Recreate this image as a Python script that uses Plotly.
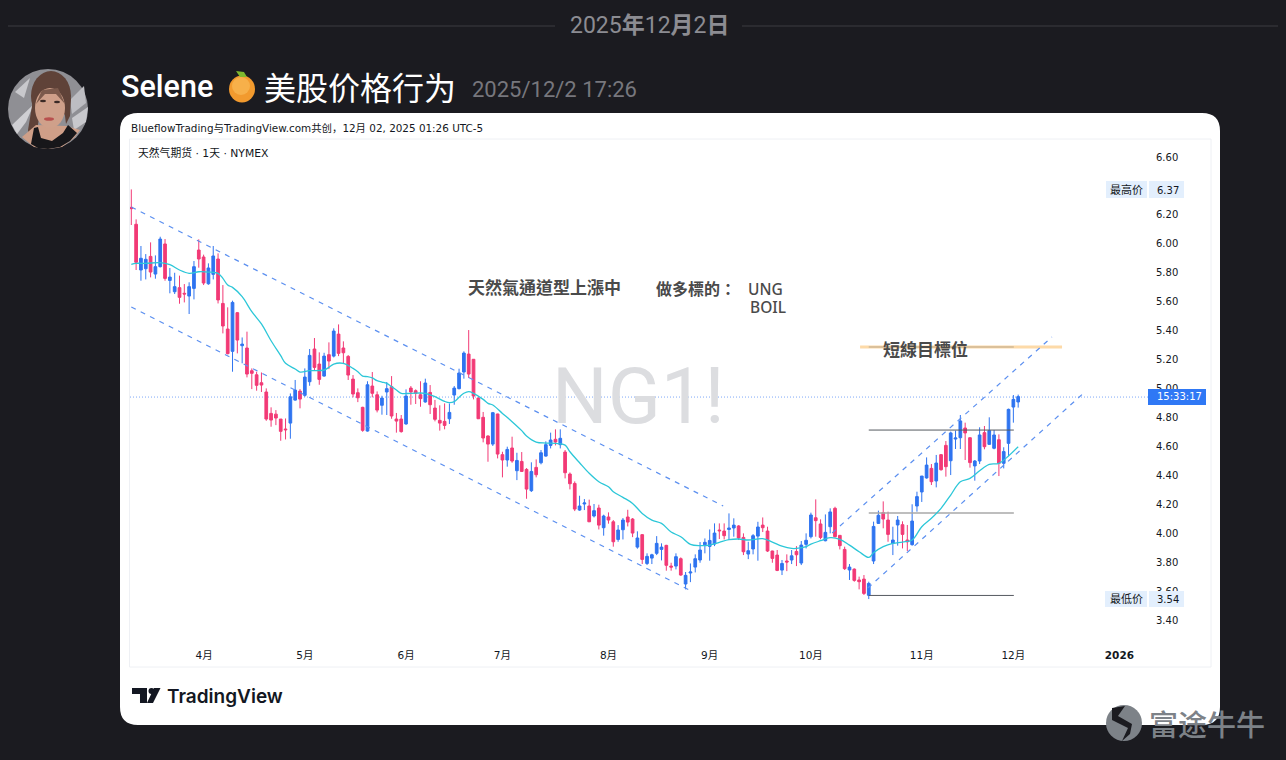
import plotly.graph_objects as go

WIDTH, HEIGHT = 1286, 760
LEFT, RIGHT, TOP, BOTTOM = 130, 1150, 139, 645

# daily candles, NG1! 1D
opens = [6.252, 6.135, 5.819, 5.828, 5.913, 5.791, 5.842, 5.999, 5.747, 5.669,
         5.697, 5.658, 5.639, 5.692, 5.957, 5.909, 5.724, 5.789, 5.895, 5.588,
         5.411, 5.257, 5.524, 5.296, 5.280, 5.123, 5.095, 5.040, 4.976, 4.828,
         4.823, 4.789, 4.720, 4.761, 4.920, 4.982, 4.953, 5.047, 5.273, 5.169,
         5.086, 5.234, 5.224, 5.376, 5.280, 5.222, 5.065, 4.971, 4.870, 4.706,
         5.017, 4.957, 4.884, 4.976, 5.013, 4.789, 4.789, 4.755, 5.003, 4.985,
         4.957, 4.907, 4.973, 4.865, 4.780, 4.773, 4.791, 4.955, 4.999, 5.114,
         5.238, 5.202, 4.934, 4.801, 4.672, 4.616, 4.824, 4.543, 4.506, 4.589,
         4.432, 4.496, 4.441, 4.294, 4.455, 4.487, 4.533, 4.607, 4.649, 4.612,
         4.561, 4.409, 4.344, 4.160, 4.202, 4.188, 4.119, 4.174, 4.038, 4.112,
         4.079, 3.957, 4.024, 4.112, 4.098, 3.904, 3.990, 3.791, 3.828, 3.861,
         3.888, 3.916, 3.773, 3.773, 3.824, 3.649, 3.725, 3.766, 3.815, 3.920,
         3.909, 3.925, 4.022, 4.015, 4.026, 4.036, 4.050, 3.971, 3.856, 3.891,
         3.980, 4.056, 4.015, 3.877, 3.849, 3.745, 3.808, 3.815, 3.874, 3.794,
         3.923, 3.976, 4.107, 4.064, 3.948, 4.045, 4.172, 3.985, 3.888, 3.746,
         3.752, 3.677, 3.683, 3.571, 3.808, 4.068, 4.142, 4.091, 3.930, 4.057,
         4.059, 3.953, 3.921, 4.188, 4.285, 4.382, 4.448, 4.361, 4.543, 4.607,
         4.501, 4.651, 4.660, 4.727, 4.660, 4.465, 4.499, 4.695, 4.614, 4.587,
         4.646, 4.483, 4.621, 4.872, 4.907]
highs = [6.376, 6.169, 5.985, 5.929, 6.010, 5.920, 6.049, 6.033, 5.833, 5.800,
         5.780, 5.722, 5.734, 5.881, 6.031, 5.925, 5.865, 5.985, 5.934, 5.715,
         5.561, 5.607, 5.529, 5.353, 5.393, 5.139, 5.116, 5.111, 5.001, 4.870,
         4.851, 4.789, 4.793, 4.966, 5.059, 4.996, 5.139, 5.273, 5.349, 5.250,
         5.247, 5.319, 5.416, 5.443, 5.326, 5.231, 5.093, 5.001, 4.874, 5.050,
         5.114, 4.980, 4.950, 5.045, 5.086, 4.831, 4.817, 4.994, 5.017, 4.994,
         5.050, 5.068, 5.024, 4.921, 4.884, 4.897, 4.897, 5.017, 5.137, 5.257,
         5.404, 5.204, 4.939, 4.838, 4.676, 4.838, 4.826, 4.563, 4.598, 4.667,
         4.556, 4.561, 4.450, 4.490, 4.510, 4.575, 4.635, 4.695, 4.718, 4.718,
         4.575, 4.420, 4.358, 4.259, 4.236, 4.232, 4.202, 4.197, 4.128, 4.144,
         4.091, 4.056, 4.105, 4.162, 4.105, 4.013, 3.994, 3.861, 3.858, 3.980,
         3.930, 3.920, 3.796, 3.861, 3.833, 3.732, 3.791, 3.854, 3.939, 3.964,
         4.026, 4.068, 4.068, 4.068, 4.137, 4.103, 4.056, 3.999, 3.941, 3.994,
         4.079, 4.109, 4.045, 3.879, 3.884, 3.815, 3.854, 3.884, 3.911, 3.946,
         3.999, 4.142, 4.234, 4.096, 4.130, 4.172, 4.183, 3.988, 3.907, 3.787,
         3.757, 3.700, 3.711, 3.665, 4.080, 4.156, 4.220, 4.149, 4.045, 4.119,
         4.082, 4.057, 4.200, 4.287, 4.395, 4.524, 4.478, 4.541, 4.547, 4.637,
         4.702, 4.709, 4.817, 4.764, 4.663, 4.506, 4.732, 4.741, 4.801, 4.713,
         4.683, 4.594, 4.861, 4.955, 4.958]
lows = [6.130, 5.819, 5.745, 5.754, 5.768, 5.759, 5.837, 5.745, 5.658, 5.653,
        5.586, 5.595, 5.515, 5.616, 5.835, 5.715, 5.717, 5.754, 5.588, 5.381,
        5.236, 5.116, 5.243, 5.174, 5.077, 4.996, 4.985, 4.976, 4.777, 4.736,
        4.747, 4.639, 4.648, 4.653, 4.916, 4.863, 4.943, 5.019, 5.123, 5.026,
        5.082, 5.134, 5.215, 5.224, 5.169, 5.059, 4.939, 4.906, 4.701, 4.702,
        4.939, 4.835, 4.819, 4.817, 4.791, 4.695, 4.695, 4.750, 4.888, 4.893,
        4.874, 4.902, 4.824, 4.773, 4.709, 4.718, 4.755, 4.888, 4.994, 5.068,
        5.073, 4.925, 4.789, 4.628, 4.494, 4.603, 4.517, 4.386, 4.460, 4.487,
        4.367, 4.423, 4.238, 4.285, 4.386, 4.476, 4.529, 4.586, 4.607, 4.586,
        4.379, 4.303, 4.153, 4.155, 4.160, 4.077, 4.109, 4.026, 3.983, 4.066,
        3.907, 3.941, 3.957, 4.047, 3.973, 3.893, 3.787, 3.780, 3.787, 3.849,
        3.812, 3.741, 3.741, 3.750, 3.706, 3.612, 3.662, 3.729, 3.796, 3.861,
        3.810, 3.911, 3.960, 3.957, 3.953, 3.976, 3.953, 3.849, 3.821, 3.854,
        3.810, 4.008, 3.870, 3.796, 3.738, 3.711, 3.738, 3.787, 3.773, 3.780,
        3.895, 3.964, 3.976, 3.958, 3.944, 3.999, 3.971, 3.888, 3.746, 3.677,
        3.665, 3.612, 3.573, 3.545, 3.787, 4.064, 4.034, 3.941, 3.849, 3.914,
        3.895, 3.877, 3.914, 4.149, 4.216, 4.377, 4.333, 4.317, 4.432, 4.391,
        4.402, 4.582, 4.582, 4.506, 4.453, 4.363, 4.478, 4.580, 4.610, 4.580,
        4.395, 4.448, 4.534, 4.764, 4.868]
closes = [6.243, 5.872, 5.900, 5.893, 5.805, 5.842, 6.033, 5.761, 5.770, 5.704,
          5.630, 5.653, 5.704, 5.842, 5.895, 5.729, 5.833, 5.916, 5.612, 5.432,
          5.241, 5.595, 5.335, 5.307, 5.100, 5.105, 5.022, 5.024, 4.789, 4.782,
          4.796, 4.704, 4.715, 4.943, 4.989, 4.927, 5.079, 5.229, 5.146, 5.063,
          5.224, 5.190, 5.397, 5.243, 5.247, 5.093, 4.962, 4.936, 4.711, 5.026,
          4.967, 4.851, 4.934, 4.999, 4.810, 4.775, 4.702, 4.948, 4.976, 4.967,
          4.930, 5.038, 4.888, 4.787, 4.761, 4.745, 4.835, 5.003, 5.107, 5.245,
          5.100, 4.948, 4.791, 4.658, 4.616, 4.833, 4.547, 4.506, 4.579, 4.499,
          4.503, 4.427, 4.305, 4.427, 4.404, 4.556, 4.612, 4.644, 4.630, 4.656,
          4.418, 4.342, 4.167, 4.188, 4.209, 4.079, 4.156, 4.056, 4.119, 4.091,
          3.941, 4.022, 4.091, 4.077, 4.001, 3.967, 3.819, 3.840, 3.851, 3.930,
          3.904, 3.778, 3.766, 3.838, 3.711, 3.709, 3.732, 3.824, 3.884, 3.937,
          3.950, 4.001, 4.017, 3.983, 4.036, 4.056, 3.967, 3.872, 3.879, 3.983,
          4.043, 4.038, 3.877, 3.826, 3.743, 3.791, 3.801, 3.844, 3.851, 3.918,
          3.951, 4.126, 4.087, 3.971, 4.006, 4.147, 3.976, 3.914, 3.755, 3.766,
          3.674, 3.665, 3.584, 3.653, 4.047, 4.124, 4.098, 3.992, 3.953, 4.091,
          3.992, 3.941, 4.084, 4.253, 4.395, 4.471, 4.356, 4.485, 4.439, 4.460,
          4.693, 4.658, 4.776, 4.693, 4.488, 4.499, 4.679, 4.598, 4.709, 4.679,
          4.483, 4.564, 4.856, 4.925, 4.944]
bars = list(range(len(closes)))

# moving average, sampled at the bars where it could be read
ema_bars = [0, 1, 3, 6, 8, 10, 12, 14, 16, 18, 19, 20, 21, 23, 25, 27, 29, 31, 32, 34, 35,
            37, 40, 41, 42, 44, 46, 47, 48, 49, 50, 51, 52, 53, 54, 55, 56, 58, 61, 63, 65,
            66, 67, 68, 69, 70, 71, 73, 74, 75, 77, 79, 81, 82, 84, 86, 88, 90, 91, 93, 95,
            97, 99, 100, 102, 104, 106, 108, 110, 112, 114, 116, 118, 120, 122, 124, 126,
            128, 131, 133, 135, 137, 138, 140, 141, 143, 145, 147, 149, 151, 153, 154, 156,
            158, 160, 162, 164, 166, 168, 170, 172, 174, 176, 178, 180, 182, 184]
ema_values = [5.858, 5.865, 5.865, 5.870, 5.856, 5.819, 5.796, 5.807, 5.805, 5.796, 5.761,
              5.715, 5.699, 5.635, 5.531, 5.446, 5.330, 5.227, 5.174, 5.135, 5.114, 5.123,
              5.128, 5.146, 5.169, 5.174, 5.139, 5.116, 5.086, 5.082, 5.073, 5.054, 5.045,
              5.036, 5.013, 4.990, 4.967, 4.967, 4.967, 4.944, 4.911, 4.902, 4.909, 4.939,
              4.967, 4.978, 4.967, 4.925, 4.897, 4.886, 4.828, 4.771, 4.709, 4.672, 4.630,
              4.623, 4.621, 4.609, 4.563, 4.487, 4.414, 4.356, 4.321, 4.287, 4.248, 4.206,
              4.137, 4.091, 4.068, 4.008, 3.976, 3.923, 3.914, 3.918, 3.937, 3.955, 3.960,
              3.953, 3.962, 3.939, 3.911, 3.895, 3.895, 3.907, 3.925, 3.948, 3.969, 3.958,
              3.918, 3.872, 3.833, 3.865, 3.907, 3.930, 3.939, 3.953, 4.045, 4.103, 4.172,
              4.264, 4.356, 4.379, 4.432, 4.476, 4.483, 4.534, 4.598]

# drawings on the chart: bar number, price
channel_bars = [[0, 122.8], [0, 115.7], [145.4, 191], [152.8, 197.8]]
channel_prices = [[6.254, 4.188], [5.563, 3.608], [4.002, 5.356], [3.621, 4.975]]
level_bars = [153, 183.1]
level_prices = [4.713, 4.14, 3.57, 5.287]
level_colors = ["#555a60", "#a8a8a8", "#555a60", "#b9a78c"]
level_widths = [1, 1.4, 1, 1]
target_bars = [151.2, 193.1]
target_price = 5.287
last_price = 4.941

month_bars = [15.1, 36, 57, 77, 99, 120, 141, 164, 183, 205]
month_labels = ["4月", "5月", "6月", "7月", "8月", "9月", "10月", "11月", "12月", "<b>2026</b>"]
# 6.40 sits behind the 最高价 tag in the original, so it is left out
price_ticks = [3.4, 3.6, 3.8, 4.0, 4.2, 4.4, 4.6, 4.8, 5.0, 5.2, 5.4, 5.6, 5.8, 6.0, 6.2, 6.6]

BG = "#1b1b20"
BLUE = "#2f74f0"
PINK = "#f23a76"
CJK = "Noto Sans CJK SC"
TV_FONT = "DejaVu Sans, Noto Sans CJK SC"


def px(x):
    return (x - LEFT) / (RIGHT - LEFT)


def py(y):
    return (BOTTOM - y) / (BOTTOM - TOP)


def path(points, close=True):
    d = "M" + " L".join(f"{px(x):.5f},{py(y):.5f}" for x, y in points)
    return d + (" Z" if close else "")


def curve(points):
    # first point, then control/end pairs
    d = f"M{px(points[0][0]):.5f},{py(points[0][1]):.5f}"
    for i in range(1, len(points) - 1, 2):
        c, e = points[i], points[i + 1]
        d += f" Q{px(c[0]):.5f},{py(c[1]):.5f} {px(e[0]):.5f},{py(e[1]):.5f}"
    return d + " Z"


def rounded(x0, y0, x1, y1, r):
    return curve([(x0 + r, y0), (x1 - r / 2, y0), (x1 - r, y0), (x1, y0), (x1, y0 + r),
                  (x1, y1 - r / 2), (x1, y1 - r), (x1, y1), (x1 - r, y1),
                  (x0 + r / 2, y1), (x0 + r, y1), (x0, y1), (x0, y1 - r),
                  (x0, y0 + r / 2), (x0, y0 + r), (x0, y0), (x0 + r, y0)])


def shape(d, color, layer="above"):
    return dict(type="path", path=d, xref="paper", yref="paper", fillcolor=color,
                line=dict(width=0), layer=layer)


def ellipse(cx, cy, rx, ry, color, layer="above"):
    return dict(type="circle", xref="paper", yref="paper", x0=px(cx - rx), x1=px(cx + rx),
                y0=py(cy + ry), y1=py(cy - ry), fillcolor=color, line=dict(width=0), layer=layer)


def box(x0, y0, x1, y1, color, layer="above"):
    return dict(type="rect", xref="paper", yref="paper", x0=px(x0), x1=px(x1),
                y0=py(y1), y1=py(y0), fillcolor=color, line=dict(width=0), layer=layer)


def hline(x0, x1, y, color, width=1):
    return dict(type="line", xref="paper", yref="paper", x0=px(x0), x1=px(x1), y0=py(y), y1=py(y),
                line=dict(color=color, width=width), layer="below")


def text(s, x, y, size, color, family=TV_FONT, anchor="left", weight=None):
    f = dict(size=size, color=color, family=family)
    if weight:
        f["weight"] = weight
    return dict(text=s, x=px(x), y=py(y), xref="paper", yref="paper", showarrow=False,
                xanchor=anchor, yanchor="middle", font=f, borderpad=0)


fig = go.Figure()

fig.add_trace(go.Scatter(x=target_bars, y=[target_price, target_price], mode="lines",
                         line=dict(color="#fddaa8", width=3)))
for price, color, lw in zip(level_prices, level_colors, level_widths):
    fig.add_trace(go.Scatter(x=level_bars, y=[price, price], mode="lines", line=dict(color=color, width=lw)))
for cb, cp in zip(channel_bars, channel_prices):
    fig.add_trace(go.Scatter(x=cb, y=cp, mode="lines", line=dict(color="#5b8ff0", width=1.2, dash="5px,5.5px")))

fig.add_trace(go.Candlestick(x=bars, open=opens, high=highs, low=lows, close=closes, whiskerwidth=0,
                             increasing=dict(line=dict(color=BLUE, width=1), fillcolor=BLUE),
                             decreasing=dict(line=dict(color=PINK, width=1), fillcolor=PINK)))
fig.add_trace(go.Scatter(x=ema_bars, y=ema_values, mode="lines", line=dict(color="#2cc7d8", width=1.3, shape="spline")))

shapes = [
    # page furniture
    hline(8, 555, 26, "#2b2b30", 2),
    hline(742, 1278, 26, "#2b2b30", 2),
    shape(rounded(120, 113, 1220, 725, 18), "#ffffff", "below"),
    dict(type="rect", xref="paper", yref="paper", x0=px(129.5), x1=px(1211), y0=py(667), y1=py(139),
         line=dict(color="#eef0f4", width=1), layer="below"),
    # last price
    dict(type="line", xref="paper", x0=0, x1=1, y0=last_price, y1=last_price,
         line=dict(color="#7ea8f8", width=1, dash="1px,2px"), layer="below"),
    # price tags
    box(1106, 181, 1147, 198, "#e3effd"),
    box(1149, 181, 1184, 198, "#e3effd"),
    box(1105, 591, 1147, 607, "#e3effd"),
    box(1149, 591, 1184, 607, "#e3effd"),
    box(1148, 389, 1206, 405, "#2f78f5"),
    # emoji orange
    ellipse(242, 89, 13, 13.5, "#f29a2e"),
    ellipse(241, 86, 9, 9, "#f7b04a"),
    shape(path([(236, 71), (244, 72), (247, 77), (240, 77)]), "#7fb82e"),
    # avatar
    ellipse(48, 109, 40, 40, "#8f8f94"),
    shape(path([(15, 92), (30, 78), (24, 98)]), "#c8c8cc"),
    shape(path([(12, 125), (34, 104), (26, 122), (17, 134)]), "#cfcfd3"),
    shape(path([(70, 100), (84, 86), (86, 103), (72, 114)]), "#bdbdc2"),
    shape(path([(72, 118), (88, 107), (86, 122), (74, 130)]), "#c8c8cc"),
    ellipse(51, 96, 20, 25, "#5f4238"),
    shape(path([(33, 100), (39, 118), (36, 138), (31, 145), (28, 130)]), "#5f4238"),
    shape(path([(63, 100), (71, 98), (70, 116), (66, 124)]), "#5f4238"),
    shape(path([(22, 137), (36, 125), (66, 126), (80, 130), (74, 138), (62, 147), (48, 149), (34, 147)]), "#cf9f88"),
    shape(path([(31, 144), (34, 128), (38, 127), (41, 138), (52, 141), (63, 133), (68, 125), (77, 133), (70, 141), (60, 147), (48, 149), (38, 148)]), "#17171a"),
    ellipse(50, 108, 15, 20, "#cfa08a"),
    shape(path([(36, 104), (42, 90), (58, 88), (65, 104), (56, 94), (45, 94)]), "#7c5a4c"),
    ellipse(43, 101, 3, 1.3, "#3a2a26"),
    ellipse(57, 102, 3, 1.3, "#3a2a26"),
    ellipse(49, 119, 5, 1.8, "#b8504e"),
    # tradingview logo
    shape(path([(132, 688), (147, 688), (147, 703), (140, 703), (140, 694), (132, 694)]), "#131722"),
    ellipse(151.5, 691, 3, 3, "#131722"),
    shape(path([(154, 688), (160.5, 688), (153, 703), (147, 703)]), "#131722"),
    # futu watermark
    ellipse(1124, 723, 18, 18, "#7d8288"),
    shape(path([(1112, 708), (1125, 706), (1118, 716), (1132, 724), (1130, 734), (1122, 741), (1128, 728), (1112, 720)]), "#1b1b20"),
]

annotations = [
    text("2025<b>年</b>12<b>月</b>2<b>日</b>", 649.5, 26, 23, "#8c8c92", "Roboto, Noto Sans CJK SC", "center"),
    text("Selene", 120, 87, 30.5, "#ffffff", "Roboto", weight=500),
    text("美股价格行为", 263, 86, 32, "#ffffff", CJK),
    text("2025/12/2 17:26", 471, 90, 22, "#77777d", "Roboto"),
    text("BlueflowTrading与TradingView.com共创，12月 02, 2025 01:26 UTC-5", 130, 128, 10.4, "#131722"),
    text("天然气期货 · 1天 · NYMEX", 137, 153, 10.8, "#131722"),
    text("NG1!", 551, 396, 78, "#dcdde0", "Roboto"),
    text("天然氣通道型上漲中", 466.5, 286, 17, "#4a4a4a", "Noto Sans CJK TC", weight=700),
    text("做多標的：", 654.5, 288, 16, "#4a4a4a", "Noto Sans CJK TC", weight=700),
    text("UNG", 746.5, 289, 15.5, "#4a4a4a", "Noto Sans", weight=500),
    text("BOIL", 748.5, 307, 15.5, "#4a4a4a", "Noto Sans", weight=500),
    text("短線目標位", 881.5, 348, 17, "#4a4a4a", "Noto Sans CJK TC", weight=700),
    text("最高价", 1109, 190, 11, "#131722"),
    text("6.37", 1155.5, 190, 10, "#131722"),
    text("最低价", 1109, 599, 11, "#131722"),
    text("3.54", 1155.5, 599, 10, "#131722"),
    text("15:33:17", 1155.5, 397, 10, "#ffffff"),
    text("TradingView", 166, 696, 19, "#131722", "Inter", weight=600),
    text("富途牛牛", 1148, 723, 29, "#7d8288", CJK, weight=500),
]

fig.update_layout(
    width=WIDTH,
    height=HEIGHT,
    margin=dict(l=LEFT, r=WIDTH - RIGHT, t=TOP, b=HEIGHT - BOTTOM),
    paper_bgcolor=BG,
    plot_bgcolor="rgba(0,0,0,0)",
    showlegend=False,
    boxgap=0.2,
    shapes=shapes,
    annotations=annotations,
    xaxis=dict(range=[(LEFT - 131.3) / 4.82, (RIGHT - 131.3) / 4.82], tickvals=month_bars, ticktext=month_labels,
               rangeslider=dict(visible=False), showgrid=False, zeroline=False, showline=False, ticks="",
               tickangle=0, ticklabelstandoff=2, tickfont=dict(size=10.5, color="#131722", family=TV_FONT)),
    yaxis=dict(range=[3.2275, 6.7244], side="right", tickvals=price_ticks, tickformat=".2f",
               showgrid=False, zeroline=False, showline=False, ticks="", ticklabelstandoff=5,
               tickfont=dict(size=10, color="#131722", family=TV_FONT)),
)

fig.write_html("out.html", config=dict(displayModeBar=False),
               post_script="document.body.style.margin='0';document.body.style.background='#1b1b20';")
